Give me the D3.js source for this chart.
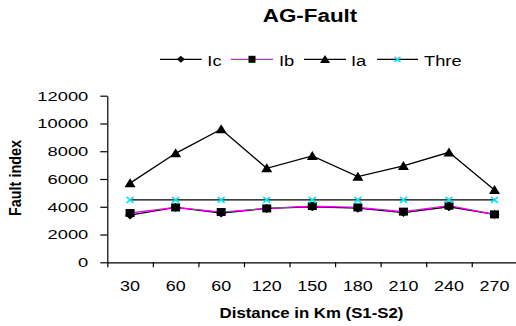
<!DOCTYPE html>
<html>
<head>
<meta charset="utf-8">
<script src="https://cdn.jsdelivr.net/npm/d3@7"></script>
<style>
  body { margin: 0; background: #fff; }
  svg { display: block; font-family: Arial, "Liberation Sans", sans-serif; }
</style>
</head>
<body>
<div id="chart"></div>
<script>
// chart values
var categories = ["30", "60", "60", "120", "150", "180", "210", "240", "270"];
var icValues = [3400, 3950, 3550, 3880, 4000, 3900, 3580, 4000, 3450];
var ibValues = [3550, 3950, 3620, 3880, 4050, 3950, 3650, 4080, 3450];
var iaValues = [5700, 7850, 9580, 6770, 7660, 6170, 6940, 7920, 5210];
var threValues = [4500, 4500, 4500, 4500, 4500, 4500, 4500, 4500, 4500];
var yTicks = [0, 2000, 4000, 6000, 8000, 10000, 12000];

var width = 516,
    height = 326;

// the original is an exported chart, stretched sideways a bit
var stretch = 1.22;

var series = [
  { name: "Ic", values: icValues, line: "#000", marker: "diamond", fill: "#000" },
  { name: "Ib", values: ibValues, line: "#ff00ff", marker: "square", fill: "#000" },
  { name: "Ia", values: iaValues, line: "#000", marker: "triangle", fill: "#000" },
  { name: "Thre", values: threValues, line: "#000", marker: "cross", fill: "#00e5ee" }
];

var svg = d3.select("#chart")
  .append("svg")
    .attr("width", width)
    .attr("height", height);

var x = d3.scaleBand()
  .domain(d3.range(categories.length))
  .range([107.3, 517.3])
  .paddingInner(0)
  .paddingOuter(0);

var xEdge = d3.scaleLinear()
  .domain([0, categories.length])
  .range(x.range());

var y = d3.scaleLinear()
  .domain([0, 12000])
  .range([262.3, 95.7]);

function cx(i) { return x(i) + x.bandwidth() / 2; }

// marker shapes, w/h in px
function markerPath(kind, w, h) {
  var a = w / 2, b = h / 2;
  if (kind == "diamond") return "M0," + (-b) + "L" + a + ",0L0," + b + "L" + (-a) + ",0Z";
  if (kind == "square") return "M" + (-a) + "," + (-b) + "H" + a + "V" + b + "H" + (-a) + "Z";
  if (kind == "triangle") return "M0," + (-b * 1.1) + "L" + a + "," + (b * 0.9) + "L" + (-a) + "," + (b * 0.9) + "Z";
  return "M" + (-a) + "," + (-b) + "L" + a + "," + b + "M" + a + "," + (-b) + "L" + (-a) + "," + b;
}

var markerSize = {
  diamond: [10, 9],
  square: [9, 8],
  triangle: [11, 9],
  cross: [7, 6]
};
var legendSize = {
  diamond: [8, 7],
  square: [7, 7],
  triangle: [10, 8],
  cross: [6, 5]
};

function drawMarker(sel, s, size) {
  var wh = size[s.marker];
  var p = sel.append("path").attr("d", markerPath(s.marker, wh[0], wh[1]));
  if (s.marker == "cross") {
    p.attr("fill", "none").attr("stroke", s.fill).attr("stroke-width", 1.6);
  } else {
    p.attr("fill", s.fill);
  }
  return p;
}

// title
svg.append("text")
  .attr("transform", "translate(310,22) scale(1.28,1)")
  .attr("text-anchor", "middle")
  .attr("font-size", 17.5)
  .attr("font-weight", "bold")
  .text("AG-Fault");

// legend
var legendItems = [
  { x0: 160, x1: 201.7, tx: 207.3 },
  { x0: 231, x1: 273, tx: 279 },
  { x0: 304, x1: 346, tx: 351 },
  { x0: 377, x1: 418, tx: 424 }
];
var legend = svg.append("g").attr("class", "legend");
series.forEach(function(s, k) {
  var it = legendItems[k];
  var g = legend.append("g");
  g.append("line")
    .attr("x1", it.x0).attr("x2", it.x1)
    .attr("y1", 59.3).attr("y2", 59.3)
    .attr("stroke", s.line)
    .attr("stroke-width", 1.3);
  drawMarker(g.append("g").attr("transform", "translate(" + ((it.x0 + it.x1) / 2) + ",59.3)"), s, legendSize);
  g.append("text")
    .attr("transform", "translate(" + it.tx + ",65.5) scale(" + stretch + ",1)")
    .attr("font-size", 15)
    .text(s.name);
});

// y axis
var yAxis = d3.axisLeft(y)
  .tickValues(yTicks)
  .tickSize(7)
  .tickSizeOuter(0)
  .tickFormat(d3.format("d"));

var yG = svg.append("g")
  .attr("transform", "translate(107.3,0)")
  .call(yAxis);
yG.select(".domain").attr("stroke-width", 1.2);
yG.selectAll(".tick line").attr("stroke-width", 1.2);
yG.selectAll(".tick text")
  .attr("font-size", 13.5)
  .attr("font-family", "Arial, 'Liberation Sans', sans-serif")
  .attr("x", -19 / 1.36)
  .attr("transform", "scale(1.36,1)");

// x axis: tick marks on the category edges, labels in the middle
var xEdgeAxis = d3.axisBottom(xEdge)
  .tickValues(d3.range(categories.length + 1))
  .tickSize(5)
  .tickSizeOuter(0)
  .tickFormat("");
var xE = svg.append("g")
  .attr("transform", "translate(0,262.3)")
  .call(xEdgeAxis);
xE.select(".domain").attr("stroke-width", 1.2);
xE.selectAll(".tick line").attr("stroke-width", 1.2);

var xAxis = d3.axisBottom(x)
  .tickSize(0)
  .tickFormat(function(i) { return categories[i]; });
var xL = svg.append("g")
  .attr("transform", "translate(0,262.3)")
  .call(xAxis);
xL.select(".domain").remove();
xL.selectAll(".tick text")
  .attr("font-size", 14)
  .attr("font-family", "Arial, 'Liberation Sans', sans-serif")
  .attr("y", 28.7)
  .attr("dy", null)
  .attr("transform", "scale(1.28,1)");

// axis titles
svg.append("text")
  .attr("transform", "translate(311.5,318.3) scale(1.2,1)")
  .attr("text-anchor", "middle")
  .attr("font-size", 14)
  .attr("font-weight", "bold")
  .text("Distance in Km (S1-S2)");

svg.append("text")
  .attr("transform", "translate(21,178) rotate(-90) scale(1,1.2)")
  .attr("text-anchor", "middle")
  .attr("font-size", 14.4)
  .attr("font-weight", "bold")
  .text("Fault index");

// lines + markers
var line = d3.line()
  .x(function(d, i) { return cx(i); })
  .y(function(d) { return y(d); });

var plot = svg.append("g").attr("class", "plot");
series.forEach(function(s) {
  plot.append("path")
    .datum(s.values)
    .attr("fill", "none")
    .attr("stroke", s.line)
    .attr("stroke-width", 1.3)
    .attr("d", line);
});
series.forEach(function(s) {
  plot.selectAll(null)
    .data(s.values)
    .enter()
    .append("g")
      .attr("transform", function(d, i) { return "translate(" + cx(i) + "," + y(d) + ")"; })
      .each(function() { drawMarker(d3.select(this), s, markerSize); });
});
</script>
</body>
</html>
